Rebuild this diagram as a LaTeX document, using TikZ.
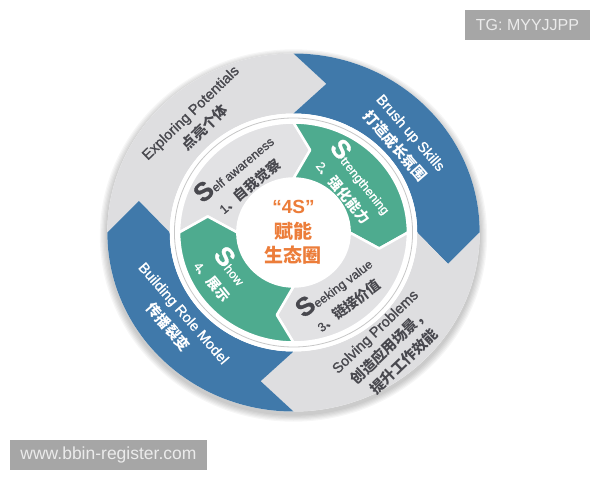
\documentclass[tikz,border=0pt]{standalone}
\usepackage{fontspec}
\setmainfont{Liberation Sans}
\newfontfamily\cjk{Noto Sans CJK SC}
\usepackage{xcolor}
\usepackage{tikz}
\definecolor{sblue}{RGB}{64,121,170}
\definecolor{lgrey}{RGB}{222,222,224}
\definecolor{igrey}{RGB}{226,226,228}
\definecolor{sgreen}{RGB}{78,171,143}
\definecolor{tgrey}{RGB}{72,72,78}
\definecolor{sorange}{RGB}{236,125,58}
\definecolor{boxgrey}{RGB}{166,166,166}
\newcommand\zhb[1]{{\cjk\bfseries #1}}
\newcommand\zhm[1]{{\fontsize{14}{22}\selectfont\cjk\bfseries #1}}
\newcommand\capS{{\fontsize{26}{22}\selectfont\bfseries S}}

\begin{document}
\begin{tikzpicture}[x=1pt,y=1pt,
 otext/.style={align=center,inner sep=0pt,font=\fontsize{14.5}{21}\selectfont\addfontfeatures{FakeBold=1.2}},
 itext/.style={align=center,inner sep=0pt,font=\fontsize{12.5}{22}\selectfont\addfontfeatures{FakeBold=1}},
 wmark/.style={fill=boxgrey,text=white!92!black,inner sep=0pt,minimum height=30pt}]
\useasboundingbox(-293.5,-247.5)rectangle(306.5,232.5);
\fill[white](-293.5,-247.5)rectangle(306.5,232.5);
\begin{scope}[xscale=1.04]
\foreach \i in {1,...,6}\fill[black,opacity=.035](0,-3)circle({179pt+1.2pt*\i});
\fill[white](0,0)circle(179pt);
\foreach \a/\c in {180/lgrey,90/sblue,0/lgrey,-90/sblue}
 \fill[\c](\a:179pt)arc[start angle=\a,delta angle=-90,radius=179pt]--({\a-102}:152pt)--({\a-90}:119pt)
  arc[start angle=\a-90,delta angle=90,radius=119pt]--({\a-12}:152pt)--cycle;
\fill[white](0,0)circle(119pt);\draw[black!22,line width=.8pt](0,0)circle(114.5pt);
\foreach \a/\c in {180/igrey,90/sgreen,0/igrey,-90/sgreen}
 \filldraw[fill=\c,draw=white,line width=2.5pt,line join=round](\a:110pt)arc[start angle=\a,delta angle=-90,radius=110pt]
  --({\a-101}:84pt)--({\a-90}:54pt)arc[start angle=\a-90,delta angle=90,radius=54pt]--({\a-11}:84pt)--cycle;
\end{scope}
\node[otext,rotate=44,text=tgrey](ep)at(-95.5,112){Exploring Potentials\\\zhb{点亮个体}};
\node[otext,rotate=-49,text=white](bs)at(109,92.5){Brush up Skills\\\zhb{打造成长氛围}};
\node[otext,rotate=-49,text=white](br)at(-118,-88){Building Role Model\\\zhb{传播裂变}};
\node[otext,rotate=44,text=tgrey](sp)at(96.5,-114.5){Solving Problems\\\zhb{创造应用场景，}\\\zhb{提升工作效能}};
\node[itext,rotate=40,text=tgrey](sa)at(-53,57){\capS elf awareness\\1\zhb{、}\zhm{自我觉察}};
\node[itext,rotate=-51,text=white](st)at(60.6,49.1){\capS trengthening\\2\zhb{、}\zhm{强化能力}};
\node[itext,rotate=37,text=tgrey](sv)at(46.7,-61.9){\capS eeking value\\3\zhb{、}\zhm{链接价值}};
\node[itext,rotate=-51,text=white](sh)at(-70.4,-40.2){\capS how\\4\zhb{、}\zhm{展示}};
\node[align=center,inner sep=0pt,text=sorange,font=\fontsize{19}{24.5}\selectfont\bfseries](hub)at(0,0){“4S”\\\zhb{赋能}\\\zhb{生态圈}};
\node[wmark,minimum width=125pt,font=\fontsize{16}{16}\selectfont](tg)at(234,207.5){TG: MYYJJPP};
\node[wmark,minimum width=197pt,font=\fontsize{17.5}{17.5}\selectfont](web)at(-185,-222.5){www.bbin-register.com};
\end{tikzpicture}
\end{document}
